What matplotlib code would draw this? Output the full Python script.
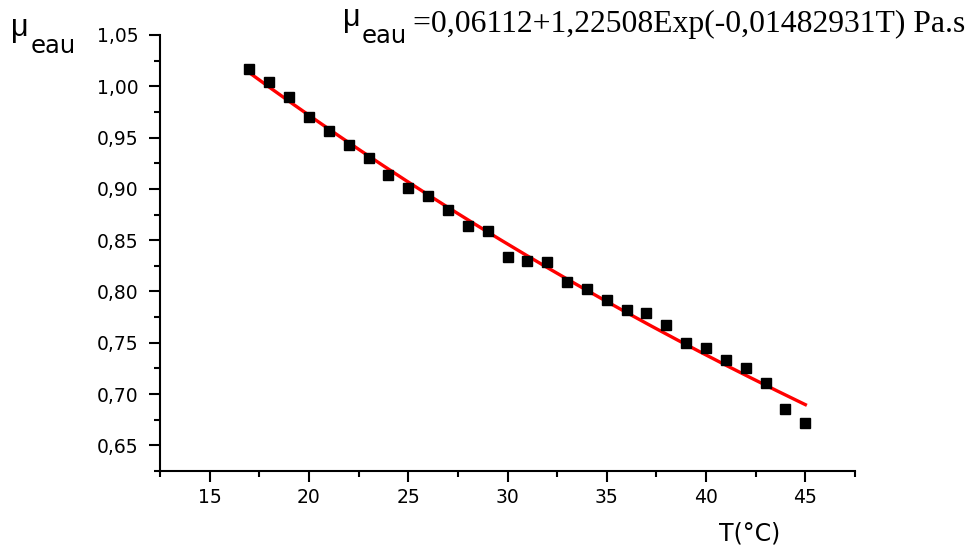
import numpy as np
import matplotlib
matplotlib.use("Agg")
import matplotlib.pyplot as plt
from matplotlib.ticker import MultipleLocator, FuncFormatter

# Data
T = [17, 18, 19, 20, 21, 22, 23, 24, 25, 26, 27, 28, 29, 30, 31,
     32, 33, 34, 35, 36, 37, 38, 39, 40, 41, 42, 43, 44, 45]
mu = [1.017, 1.004, 0.990, 0.970, 0.956, 0.943, 0.930, 0.914, 0.901, 0.893,
      0.879, 0.864, 0.859, 0.834, 0.830, 0.829, 0.809, 0.802, 0.792, 0.782,
      0.779, 0.767, 0.750, 0.745, 0.733, 0.725, 0.711, 0.685, 0.672]
# Fit parameters (exponential decay)
fit_y0 = 0.06112
fit_A = 1.22508
fit_k = 0.01482931

x_ticks = [15, 20, 25, 30, 35, 40, 45]
y_ticks = [0.65, 0.70, 0.75, 0.80, 0.85, 0.90, 0.95, 1.00, 1.05]

fig = plt.figure(figsize=(9.74, 5.52), dpi=100)
ax = fig.add_axes([160/974, 1-471/552, (855-160)/974, (471-35)/552])

Tf = np.linspace(min(T), max(T), 200)
ax.plot(Tf, fit_y0 + fit_A*np.exp(-fit_k*Tf), color='red', lw=2.4, zorder=2)
ax.plot(T, mu, 's', color='black', markersize=6.6, zorder=3)

ax.set_xlim(12.5, 47.5)
ax.set_ylim(0.625, 1.05)
ax.set_xticks(x_ticks)
ax.set_yticks(y_ticks)
ax.xaxis.set_minor_locator(MultipleLocator(2.5))
ax.yaxis.set_minor_locator(MultipleLocator(0.025))
ax.yaxis.set_major_formatter(FuncFormatter(lambda v, p: f"{v:.2f}".replace('.', ',')))

for s in ['top', 'right']:
    ax.spines[s].set_visible(False)
for s in ['left', 'bottom']:
    ax.spines[s].set_linewidth(1.5)
ax.tick_params(which='major', direction='out', length=8, width=1.5, pad=4,
               labelsize=13.5, labelfontfamily='DejaVu Sans', colors='black')
ax.tick_params(axis='y', which='major', pad=7.5)
ax.tick_params(which='minor', direction='out', length=4.5, width=1.5)

# y label
fig.text(11/974, 1-36/552, "μ", fontsize=22, family='Liberation Sans', va='baseline')
fig.text(31/974, 1-53/552, "eau", fontsize=17.5, family='DejaVu Sans', va='baseline')
# x label
fig.text(750/974, 1-541/552, "T(°C)", fontsize=17, family='DejaVu Sans', ha='center', va='baseline')
# formula
fig.text(343/974, 1-26/552, "μ", fontsize=22, family='Liberation Sans', va='baseline')
fig.text(362/974, 1-43/552, "eau", fontsize=17.5, family='DejaVu Sans', va='baseline')
fig.text(413/974, 1-32/552, "=0,06112+1,22508Exp(-0,01482931T) Pa.s", fontsize=22.8,
         family='Liberation Serif', va='baseline')

fig.savefig("out.png", dpi=100)
